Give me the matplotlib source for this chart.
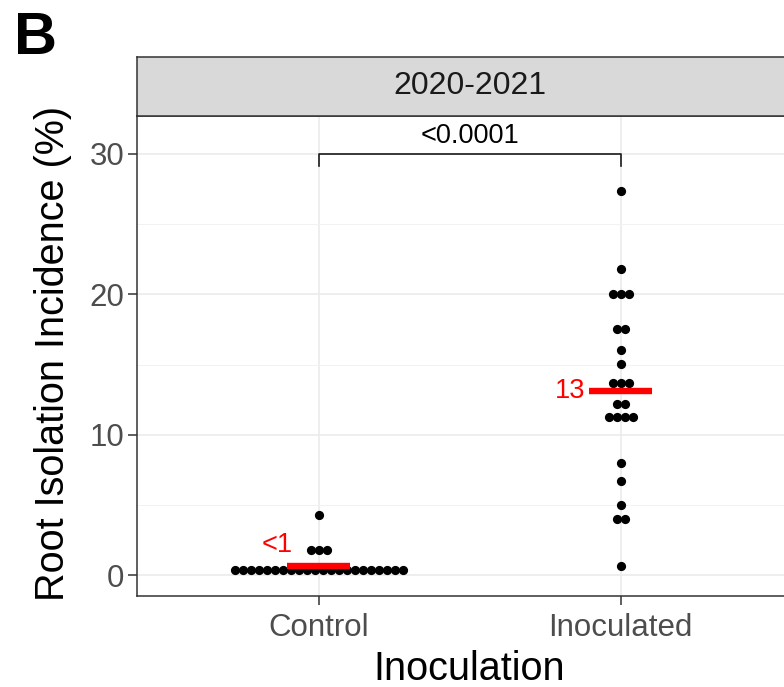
import numpy as np
import matplotlib
matplotlib.use('Agg')
import matplotlib.pyplot as plt

plt.rcParams['font.family'] = ['Liberation Sans', 'DejaVu Sans']

# --- Data ---
groups = ['Control', 'Inoculated']
facet_label = '2020-2021'

# each group: distinct incidence values and how many points sit at each value
control_levels = [0.38, 1.80, 4.29]
control_counts = [22, 3, 1]
inoc_levels = [0.68, 4.0, 5.0, 6.7, 8.0, 11.27, 12.19, 13.71, 15.04, 16.04, 17.53, 20.02, 21.8, 27.37]
inoc_counts = [1, 2, 1, 1, 1, 4, 2, 3, 1, 1, 2, 3, 1, 1]

mean_labels = ['<1', '13']
p_label = '<0.0001'

levels = [control_levels, inoc_levels]
counts = [control_counts, inoc_counts]

# --- Figure / layout ---
W, H = 784, 687
fig = plt.figure(figsize=(W / 100, H / 100), dpi=100)

def px_box(left, top, right, bottom):
    return [left / W, 1 - bottom / H, (right - left) / W, (bottom - top) / H]

ax = fig.add_axes(px_box(137.3, 116, 802, 596))
strip = fig.add_axes(px_box(137.3, 57, 802, 116))

grid_major = '#EBEBEB'
dark = '#333333'

ax.set_xlim(0.4, 2.6)
ax.set_ylim(-1.47, 32.69)
ax.set_yticks([0, 10, 20, 30])
ax.set_yticks([5, 15, 25], minor=True)
ax.set_xticks([1, 2])
ax.set_xticklabels(groups)
ax.grid(True, which='major', color=grid_major, lw=1.2, zorder=0)
ax.grid(True, which='minor', axis='y', color='#F2F2F2', lw=0.7, zorder=0)
ax.set_axisbelow(True)
ax.tick_params(axis='both', which='major', length=6.5, width=1.1, color=dark,
               labelsize=22.5, labelcolor='#4D4D4D')
ax.tick_params(axis='x', which='major', pad=6)
ax.tick_params(axis='y', which='major', pad=3)
ax.tick_params(axis='y', which='minor', length=0)
for side in ['left', 'bottom', 'top', 'right']:
    ax.spines[side].set_color(dark)
    ax.spines[side].set_linewidth(1.1)

# --- Points: stack equal values side by side (beeswarm-like) ---
step = 8.0 / 665 * 2.2  # horizontal spacing between neighbouring dots, in x units
means = []
for gi, (lv, ct) in enumerate(zip(levels, counts)):
    xs, ys = [], []
    for v, n in zip(lv, ct):
        offs = (np.arange(n) - (n - 1) / 2) * step
        xs.extend(gi + 1 + offs)
        ys.extend([v] * n)
    ax.scatter(xs, ys, s=44, color='black', linewidths=0, zorder=3)
    means.append(np.sum(np.array(lv) * np.array(ct)) / np.sum(ct))

# --- Mean bars and labels ---
for gi, m in enumerate(means):
    x = gi + 1
    ax.plot([x - 0.104, x + 0.104], [m, m], color='#FF0000', lw=4.6,
            solid_capstyle='butt', zorder=4)
ax.text(0.915, means[0] + 1.5, mean_labels[0], color='#FF0000', fontsize=19.5,
        ha='right', va='center', zorder=5)
ax.text(1.882, means[1], mean_labels[1], color='#FF0000', fontsize=19.5,
        ha='right', va='center', zorder=5)

# --- Significance bracket ---
ax.plot([1, 1, 2, 2], [29.1, 30, 30, 29.1], color='#1A1A1A', lw=1.2, zorder=4)
ax.text(1.5, 31.27, p_label, fontsize=19.5, ha='center', va='center', color='black')

# --- Facet strip ---
strip.set_xlim(0, 1)
strip.set_ylim(0, 1)
strip.set_facecolor('#D9D9D9')
strip.set_xticks([])
strip.set_yticks([])
for side in strip.spines.values():
    side.set_color(dark)
    side.set_linewidth(1.1)
strip.text(0.5, 0.5, facet_label, fontsize=23, color='#1A1A1A',
           ha='center', va='center', transform=strip.transAxes)

# --- Axis titles and panel tag ---
fig.text(53 / W, 1 - 353 / H, 'Root Isolation Incidence (%)', rotation=90,
         fontsize=28.5, ha='center', va='center')
fig.text(469.5 / W, 1 - 669 / H, 'Inoculation', fontsize=28.5,
         ha='center', va='center')
fig.text(14 / W, 1 - 54 / H, 'B', fontsize=43, fontweight='bold',
         ha='left', va='baseline')

fig.savefig('out.png', dpi=100)
